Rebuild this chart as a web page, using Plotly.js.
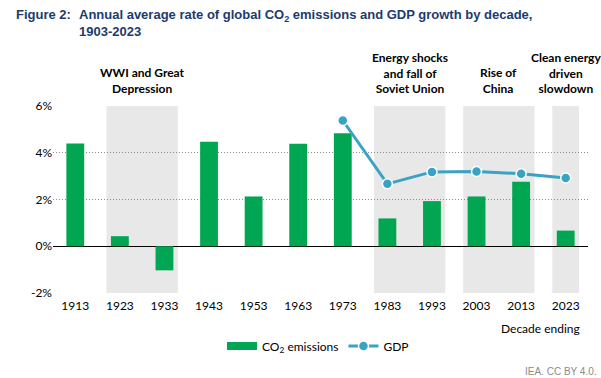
<!DOCTYPE html>
<html>
<head>
<meta charset="utf-8">
<script src="https://cdn.plot.ly/plotly-3.0.1.min.js"></script>
<style>html,body{margin:0;padding:0;background:#fff}#chart{width:601px;height:378px}</style>
</head>
<body>
<div id="chart"></div>
<script>
const decades = ['1913','1923','1933','1943','1953','1963','1973','1983','1993','2003','2013','2023'];
const co2 = [4.40, 0.43, -1.03, 4.47, 2.13, 4.39, 4.83, 1.19, 1.93, 2.13, 2.76, 0.67];
const gdpDecades = ['1973','1983','1993','2003','2013','2023'];
const gdp = [5.38, 2.67, 3.18, 3.20, 3.10, 2.92];
const eraLabels = ['WWI and Great<br>Depression', 'Energy shocks<br>and fall of<br>Soviet Union', 'Rise of<br>China', 'Clean energy<br>driven<br>slowdown'];
const eraStart = ['1923','1983','2003','2023'];
const eraEnd = ['1933','1993','2013','2023'];
const yTicks = [-2, 0, 2, 4, 6];
const yTickText = ['-2%', '0%', '2%', '4%', '6%'];

const W = 601, L = 53, R = 13, T = 106, B = 85;
const plotW = W - L - R, plotH = 378 - T - B;
const px = v => (v - L) / plotW;          // pixel x -> paper x
const py = v => (378 - B - v) / plotH;    // pixel y -> paper y

const green = '#00a651', blue = '#39a3c3', navy = '#1c3b6e';
const fontFam = 'Lato, "Open Sans", sans-serif';

const traces = [
  { type: 'bar', x: decades, y: co2, name: 'CO<sub>2</sub> emissions', showlegend: false,
    marker: { color: green, line: { width: 0 } }, width: 0.4 },
  // legend entry for the bars, drawn as a wide swatch like the reference
  { type: 'scatter', mode: 'lines', x: [null], y: [null], name: 'CO<sub>2</sub> emissions',
    line: { color: green, width: 8 }, hoverinfo: 'skip' },
  { type: 'scatter', mode: 'lines+markers', x: gdpDecades, y: gdp, name: 'GDP',
    line: { color: blue, width: 3 },
    marker: { color: blue, size: 10, line: { color: '#fff', width: 1.5 } } }
];

const shapes = eraStart.map((s, i) => ({
  type: 'rect', xref: 'x', yref: 'y', layer: 'below',
  x0: decades.indexOf(s) - 0.3, x1: decades.indexOf(eraEnd[i]) + 0.3,
  y0: -2, y1: 6, fillcolor: '#e8e8e8', line: { width: 0 }
}));

const annotations = eraLabels.map((t, i) => ({
  text: '<b>' + t + '</b>', xref: 'x', yref: 'paper',
  x: (decades.indexOf(eraStart[i]) + decades.indexOf(eraEnd[i])) / 2,
  y: 1, yanchor: 'bottom', yshift: 8, showarrow: false,
  font: { family: fontFam, size: 12, color: '#000' }, align: 'center'
}));

annotations.push(
  { text: '<b>Figure 2:</b>', xref: 'paper', yref: 'paper', x: px(14), y: py(5),
    xanchor: 'left', yanchor: 'top', showarrow: false, align: 'left',
    font: { family: '"Liberation Sans", Arial, sans-serif', size: 13, color: navy } },
  { text: '<b>Annual average rate of global CO<sub>2</sub> emissions and GDP growth by decade,<br>1903-2023</b>',
    xref: 'paper', yref: 'paper', x: px(77), y: py(5),
    xanchor: 'left', yanchor: 'top', showarrow: false, align: 'left',
    font: { family: '"Liberation Sans", Arial, sans-serif', size: 13, color: navy } },
  { text: 'Decade ending', xref: 'paper', yref: 'paper', x: px(582), y: py(328),
    xanchor: 'right', yanchor: 'middle', showarrow: false,
    font: { family: fontFam, size: 12, color: '#000' } },
  { text: 'IEA. CC BY 4.0.', xref: 'paper', yref: 'paper', x: px(599), y: py(371),
    xanchor: 'right', yanchor: 'middle', showarrow: false,
    font: { family: '"Liberation Sans", Arial, sans-serif', size: 10, color: '#8a8a8a' } }
);

const layout = {
  width: 601, height: 378,
  margin: { l: L, r: R, t: T, b: B },
  paper_bgcolor: '#fff', plot_bgcolor: '#fff',
  font: { family: fontFam, size: 12, color: '#000' },
  showlegend: true,
  legend: { orientation: 'h', x: px(222), y: py(346), xanchor: 'left', yanchor: 'middle',
    font: { family: fontFam, size: 12, color: '#000' }, itemwidth: 30, bgcolor: 'rgba(0,0,0,0)' },
  xaxis: { type: 'category', range: [-0.5, 11.5], showgrid: false, zeroline: false,
    showline: false, ticks: '', tickfont: { size: 12 }, ticklabelstandoff: 4, fixedrange: true },
  yaxis: { range: [-2, 6], tickvals: yTicks, ticktext: yTickText, showgrid: true,
    gridcolor: '#8c8c8c', griddash: '1px,2px', gridwidth: 1, zeroline: true,
    zerolinecolor: '#000', zerolinewidth: 1.3, showline: false, ticks: '',
    tickfont: { size: 12 }, fixedrange: true },
  shapes: shapes,
  annotations: annotations,
  bargap: 0.6
};

Plotly.newPlot('chart', traces, layout, { displayModeBar: false, staticPlot: true });
</script>
</body>
</html>
